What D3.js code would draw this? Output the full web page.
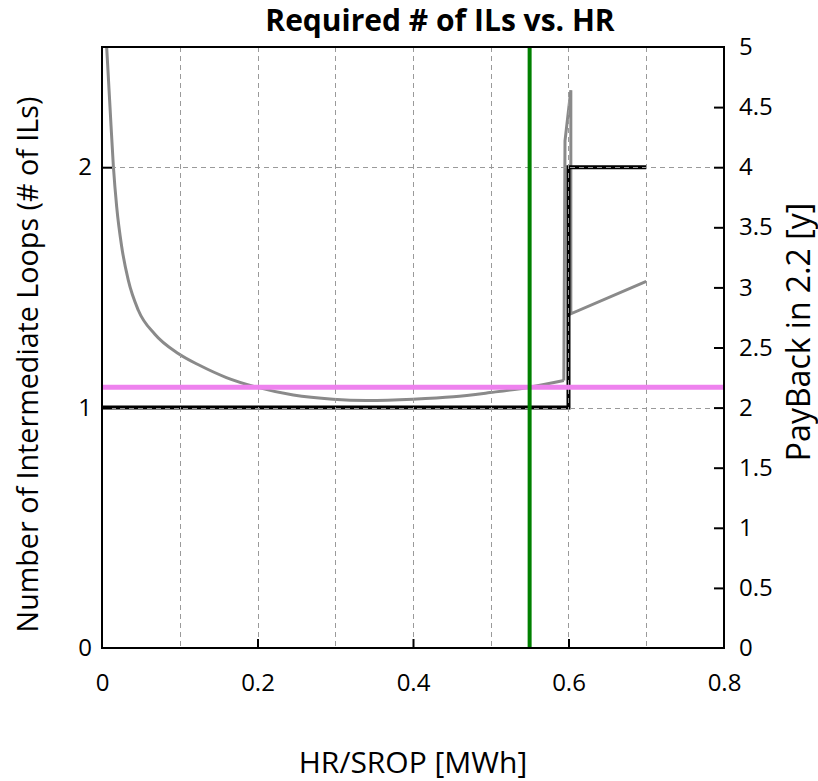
<!DOCTYPE html>
<html><head><meta charset="utf-8">
<script src="https://cdn.jsdelivr.net/npm/d3@7"></script>
<style>body{margin:0;background:#fff;} svg{display:block;font-family:"Open Sans","Noto Sans",sans-serif;}</style>
</head><body>
<svg id="c" width="818" height="781"></svg>
<script>
// ---- data ----
const xTicks = [0, 0.2, 0.4, 0.6, 0.8];
const xGrid = [0.1, 0.2, 0.3, 0.4, 0.5, 0.6, 0.7];
const leftTicks = [0, 1, 2];
const rightTicks = [0, 0.5, 1, 1.5, 2, 2.5, 3, 3.5, 4, 4.5, 5];
// Required number of ILs (left axis), step line
const ilX = [0, 0.6, 0.6, 0.7];
const ilY = [1, 1, 2, 2];
// Payback (right axis): smooth part
const pbX = [0.006, 0.0103, 0.0146, 0.0189, 0.0253, 0.0338, 0.0467, 0.068, 0.098, 0.126, 0.16, 0.199, 0.246, 0.297, 0.34, 0.4, 0.452, 0.499, 0.55, 0.594];
const pbY = [5.0, 4.5, 4.01, 3.67, 3.34, 3.06, 2.81, 2.61, 2.45, 2.35, 2.25, 2.17, 2.105, 2.07, 2.06, 2.07, 2.09, 2.125, 2.17, 2.225];
// Payback (right axis): spike and tail
const pbX2 = [0.594, 0.5955, 0.603, 0.603, 0.7];
const pbY2 = [2.225, 4.22, 4.64, 2.78, 3.05];
const targetPayback = 2.17;   // pink horizontal (right axis)
const selectedHR = 0.55;      // green vertical

// ---- layout ----
const L = 102, R = 724, T = 47, B = 648;
const svg = d3.select("#c");
const x = d3.scaleLinear().domain([0, 0.8]).range([L, R]);
const yL = d3.scaleLinear().domain([0, 2.5]).range([B, T]);
const yR = d3.scaleLinear().domain([0, 5]).range([B, T]);

const g = svg.append("g");
g.append("path")
  .datum(pbX.map((v, i) => [v, pbY[i]]))
  .attr("fill", "none").attr("stroke", "#8a8a8a").attr("stroke-width", 3)
  .attr("d", d3.line().curve(d3.curveMonotoneX).x(d => x(d[0])).y(d => yR(d[1])));
g.append("path")
  .datum(pbX2.map((v, i) => [v, pbY2[i]]))
  .attr("fill", "none").attr("stroke", "#8a8a8a").attr("stroke-width", 3)
  .attr("d", d3.line().x(d => x(d[0])).y(d => yR(d[1])));
g.append("path")
  .datum(ilX.map((v, i) => [v, ilY[i]]))
  .attr("fill", "none").attr("stroke", "#000").attr("stroke-width", 4)
  .attr("d", d3.line().x(d => x(d[0])).y(d => yL(d[1])));

// grid
const grid = svg.append("g").attr("stroke", "#9a9a9a").attr("stroke-width", 1).attr("stroke-dasharray", "5,4");
grid.selectAll("line.v").data(xGrid).join("line")
  .attr("x1", d => Math.round(x(d)) + 0.5).attr("x2", d => Math.round(x(d)) + 0.5)
  .attr("y1", T).attr("y2", B);
grid.selectAll("line.h").data([1, 2]).join("line")
  .attr("y1", d => Math.round(yL(d)) + 0.5).attr("y2", d => Math.round(yL(d)) + 0.5)
  .attr("x1", L).attr("x2", R);

svg.append("line").attr("x1", L).attr("x2", R)
  .attr("y1", yR(targetPayback)).attr("y2", yR(targetPayback))
  .attr("stroke", "#ee82ee").attr("stroke-width", 5);
svg.append("line").attr("x1", x(selectedHR)).attr("x2", x(selectedHR))
  .attr("y1", T).attr("y2", B)
  .attr("stroke", "#008000").attr("stroke-width", 4);

const fs = 24;
const ax = svg.append("g").attr("transform", `translate(0,${B})`)
  .call(d3.axisBottom(x).tickValues(xTicks).tickSize(-9).tickPadding(26).tickFormat(d3.format("")));
const ayl = svg.append("g").attr("transform", `translate(${L},0)`)
  .call(d3.axisLeft(yL).tickValues(leftTicks).tickSize(-10).tickPadding(10).tickFormat(d3.format("d")));
const ayr = svg.append("g").attr("transform", `translate(${R},0)`)
  .call(d3.axisRight(yR).tickValues(rightTicks).tickSize(-10).tickPadding(15).tickFormat(d3.format("")));
[ax, ayl, ayr].forEach(a => {
  a.select(".domain").remove();
  a.selectAll(".tick line").attr("stroke", "#000").attr("stroke-width", 2);
  a.selectAll("text").attr("font-size", fs).attr("fill", "#000").attr("font-family", "Open Sans, Noto Sans, sans-serif");
});
ax.selectAll(".tick line").filter(d => d === 0 || d === 0.8).remove();
ayl.selectAll(".tick line").filter(d => d === 0).remove();
ayr.selectAll(".tick line").filter(d => d === 0 || d === 5).remove();

svg.append("rect").attr("x", L).attr("y", T).attr("width", R - L).attr("height", B - T)
  .attr("fill", "none").attr("stroke", "#000").attr("stroke-width", 2);

svg.append("text").attr("x", 440).attr("y", 31).attr("text-anchor", "middle")
  .attr("font-size", 30).attr("font-weight", "bold").text("Required # of ILs vs. HR");
svg.append("text").attr("x", (L + R) / 2).attr("y", 773).attr("text-anchor", "middle")
  .attr("font-size", 30).text("HR/SROP [MWh]");
svg.append("text").attr("transform", `translate(38,${(T + B) / 2 + 17}) rotate(-90)`).attr("text-anchor", "middle")
  .attr("font-size", 28.7).text("Number of Intermediate Loops (# of ILs)");
svg.append("text").attr("transform", `translate(810,332) rotate(-90)`).attr("text-anchor", "middle")
  .attr("font-size", 32).text("PayBack in 2.2 [y]");
</script>
</body></html>
